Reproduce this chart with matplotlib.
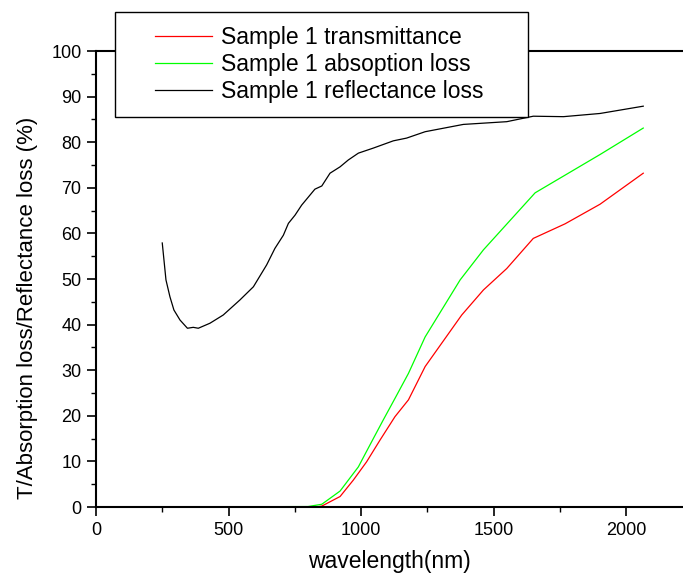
import matplotlib
matplotlib.use("Agg")
import matplotlib.pyplot as plt
from matplotlib.patches import Rectangle
from matplotlib.ticker import MultipleLocator

plt.rcParams['font.family'] = ['Liberation Sans', 'DejaVu Sans']

# Reflectance loss (black)
refl_wl = [250, 264, 279, 294, 317, 345, 367, 386, 430, 480, 543, 594, 644, 675,
           707, 726, 751, 776, 826, 852, 883, 921, 952, 990, 1046, 1122, 1172,
           1242, 1386, 1550, 1650, 1764, 1902, 2065]
refl_val = [57.9, 49.8, 46.1, 43.2, 41.0, 39.2, 39.4, 39.2, 40.3, 42.1, 45.4, 48.3,
            53.1, 56.7, 59.6, 62.2, 64.0, 66.2, 69.7, 70.4, 73.2, 74.6, 76.1, 77.6,
            78.7, 80.3, 80.9, 82.3, 83.9, 84.5, 85.7, 85.6, 86.3, 87.9]

# Transmittance (red)
trans_wl = [250, 800, 830, 852, 921, 971, 1021, 1072, 1128, 1179, 1242, 1380, 1462,
            1550, 1650, 1770, 1902, 2065]
trans_val = [0, 0, 0, 0.2, 2.3, 5.9, 9.9, 14.7, 19.8, 23.5, 30.8, 42.1, 47.6,
             52.3, 58.9, 62.1, 66.4, 73.2]

# Absorption loss (green)
abs_wl = [250, 800, 852, 921, 990, 1040, 1084, 1128, 1179, 1242, 1374, 1462, 1657,
          1902, 2065]
abs_val = [0, 0.1, 0.6, 3.5, 8.8, 14.3, 19.1, 23.8, 29.3, 37.3, 49.8, 56.4, 68.9,
           77.3, 83.1]

labels = ["Sample 1 transmittance", "Sample 1 absoption loss", "Sample 1 reflectance loss"]

W, H = 683, 576
fig = plt.figure(figsize=(W / 100, H / 100), dpi=100)
ax = fig.add_axes([96 / W, 1 - 507 / H, 1 - 96 / W, (507 - 51) / H])

l1, = ax.plot(trans_wl, trans_val, color='#ff0000', lw=0.9)
l2, = ax.plot(abs_wl, abs_val, color='#00ff00', lw=0.9)
l3, = ax.plot(refl_wl, refl_val, color='black', lw=0.9)

ax.set_xlim(0, 2215)
ax.set_ylim(0, 100)
ax.xaxis.set_major_locator(MultipleLocator(500))
ax.xaxis.set_minor_locator(MultipleLocator(250))
ax.yaxis.set_major_locator(MultipleLocator(10))
ax.yaxis.set_minor_locator(MultipleLocator(5))
ax.tick_params(which='major', direction='out', length=6.5, width=1.2, labelsize=13, pad=4)
ax.tick_params(which='minor', direction='out', length=3.5, width=1.0)
for s in ['left', 'bottom', 'top']:
    ax.spines[s].set_linewidth(1.5)
ax.spines['right'].set_visible(False)

ax.set_xlabel("wavelength(nm)", fontsize=16.5, labelpad=8)
ax.set_ylabel("T/Absorption loss/Reflectance loss (%)", fontsize=16)
ax.yaxis.set_label_coords((38 - 96) / (W - 96), (507 - 308) / (507 - 51))

rect = Rectangle((115 / W, 1 - 117 / H), (528 - 115) / W, (117 - 12) / H,
                 transform=fig.transFigure, facecolor='white', edgecolor='black',
                 lw=1.0, zorder=3)
fig.add_artist(rect)

leg = fig.legend([l1, l2, l3], labels, loc='upper left',
                 bbox_to_anchor=(155 / W, 1 - 26 / H), bbox_transform=fig.transFigure,
                 frameon=False, fontsize=16.5, handlelength=2.5, handletextpad=0.4,
                 labelspacing=0.18, borderpad=0, borderaxespad=0)
leg.set_zorder(4)

fig.savefig("out.png", dpi=100)
